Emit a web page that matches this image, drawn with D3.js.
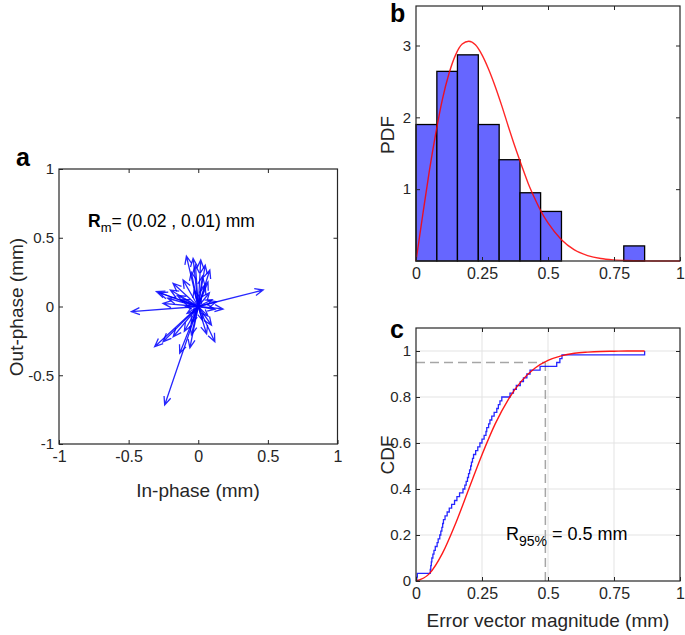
<!DOCTYPE html>
<html>
<head>
<meta charset="utf-8">
<script src="https://cdn.jsdelivr.net/npm/d3@7"></script>
<style>
  html, body { margin: 0; padding: 0; background: #fff; }
  svg text { font-family: "Liberation Sans", Arial, Helvetica, sans-serif; }
</style>
</head>
<body>
<svg id="chart" width="685" height="635"></svg>
<script>
// ---------------- DATA ----------------
// Panel a: error vectors (in-phase, out-phase) in mm, drawn from the origin
const arrowX = [-0.085, -0.037, 0.018, 0.083, 0.070, -0.109, -0.181, -0.300, -0.253, -0.480,
                 0.466, 0.178, 0.131, -0.313, -0.253, -0.133, -0.241, 0.119, 0.095, -0.049,
                -0.200, -0.150, -0.120, -0.220, -0.050, 0.030, 0.050, -0.030, 0.080, -0.080,
                -0.050, 0.030, 0.060, -0.100, 0.120, 0.100, -0.020, 0.050, -0.060, -0.180,
                -0.280, 0.020, -0.040, 0.070, -0.090];
const arrowY = [ 0.367, 0.350, 0.338, 0.265, 0.180, 0.193, 0.169, 0.108, 0.023, -0.038,
                 0.120, -0.018, 0.035, -0.292, -0.256, -0.340, -0.716, -0.256, -0.135, -0.207,
                 0.120, 0.080, 0.050, 0.060, 0.250, 0.220, 0.150, 0.120, 0.100, -0.050,
                -0.120, -0.100, -0.200, -0.180, -0.020, 0.050, 0.300, 0.300, -0.300, -0.220,
                 0.100, 0.060, -0.050, -0.070, 0.000];
const meanLabel = "= (0.02 , 0.01) mm";

// Panel b: histogram (PDF normalised) and fitted curve
const binEdges = [0, 0.079, 0.157, 0.236, 0.315, 0.394, 0.472, 0.551, 0.630, 0.709, 0.787, 0.866];
const pdfValues = [1.90, 2.64, 2.87, 1.90, 1.41, 0.95, 0.69, 0, 0, 0, 0.21];
const fitPdfX = [0, 0.025, 0.05, 0.075, 0.1, 0.125, 0.15, 0.175, 0.2, 0.225, 0.25, 0.275, 0.3,
                 0.325, 0.35, 0.375, 0.4, 0.425, 0.45, 0.475, 0.5, 0.55, 0.6, 0.65, 0.7, 0.75,
                 0.8, 0.85, 0.9, 1.0];
const fitPdfY = [0, 0.63, 1.24, 1.78, 2.25, 2.61, 2.87, 3.02, 3.06, 3.01, 2.87, 2.67, 2.43,
                 2.16, 1.87, 1.59, 1.33, 1.08, 0.87, 0.68, 0.53, 0.30, 0.155, 0.076, 0.034, 0.015,
                 0.006, 0.002, 0.001, 0];

// Panel c: measured error magnitudes (mm, sorted) -> empirical CDF, and fitted CDF
const errorMagnitudes = [0.003, 0.005, 0.054, 0.056, 0.058, 0.060, 0.064, 0.068, 0.073, 0.080,
                         0.084, 0.090, 0.094, 0.098, 0.101, 0.104, 0.110, 0.118, 0.126, 0.135,
                         0.146, 0.155, 0.165, 0.178, 0.185, 0.190, 0.195, 0.199, 0.203, 0.207,
                         0.210, 0.214, 0.218, 0.226, 0.234, 0.242, 0.250, 0.258, 0.265, 0.268,
                         0.275, 0.280, 0.287, 0.296, 0.306, 0.312, 0.318, 0.325, 0.356, 0.369,
                         0.380, 0.395, 0.407, 0.420, 0.432, 0.470, 0.533, 0.545, 0.553, 0.866];
const fitCdfX = [0, 0.05, 0.1, 0.15, 0.2, 0.25, 0.3, 0.35, 0.4, 0.45, 0.5, 0.55, 0.6, 0.65,
                 0.7, 0.75, 0.8, 0.866];
const fitCdfY = [0, 0.031, 0.120, 0.250, 0.400, 0.549, 0.683, 0.790, 0.870, 0.925, 0.959,
                 0.979, 0.990, 0.995, 0.998, 0.999, 1.0, 1.0];
const r95Value = 0.49;
const r95Level = 0.95;

// Ticks
const ticksA = [-1, -0.5, 0, 0.5, 1];
const ticksALabels = ["-1", "-0.5", "0", "0.5", "1"];
const ticksX01 = [0, 0.25, 0.5, 0.75, 1];
const ticksX01Labels = ["0", "0.25", "0.5", "0.75", "1"];
const ticksPdf = [1, 2, 3];
const ticksPdfLabels = ["1", "2", "3"];
const ticksCdf = [0, 0.2, 0.4, 0.6, 0.8, 1];
const ticksCdfLabels = ["0", "0.2", "0.4", "0.6", "0.8", "1"];

// ---------------- DRAWING ----------------
const svg = d3.select("#chart");
const axisColor = "#262626";
const tickFont = 16;
const yTickFont = 15;
const labelFont = 19;

function lab(ticks, labels) {
  return v => labels[ticks.indexOf(v)];
}

function frame(g, sx, sy, xt, xl, yt, yl, xTopTicks, yRightTicks) {
  const [x0, x1] = sx.range();
  const [y0, y1] = sy.range(); // y0 bottom, y1 top
  g.append("g").attr("transform", `translate(0,${y0})`)
    .call(d3.axisBottom(sx).tickValues(xt).tickFormat(lab(xt, xl)).tickSizeInner(-4).tickSizeOuter(0).tickPadding(7))
    .call(a => a.select(".domain").remove())
    .call(a => a.selectAll("line").attr("stroke", axisColor))
    .call(a => a.selectAll("text").attr("fill", axisColor).style("font-size", tickFont + "px"));
  g.append("g").attr("transform", `translate(${x0},0)`)
    .call(d3.axisLeft(sy).tickValues(yt).tickFormat(lab(yt, yl)).tickSizeInner(-4).tickSizeOuter(0).tickPadding(5))
    .call(a => a.select(".domain").remove())
    .call(a => a.selectAll("line").attr("stroke", axisColor))
    .call(a => a.selectAll("text").attr("fill", axisColor).style("font-size", yTickFont + "px"));
  g.append("g").attr("transform", `translate(0,${y1})`)
    .call(d3.axisTop(sx).tickValues(xTopTicks).tickFormat("").tickSizeInner(-4).tickSizeOuter(0))
    .call(a => a.select(".domain").remove())
    .call(a => a.selectAll("line").attr("stroke", axisColor));
  g.append("g").attr("transform", `translate(${x1},0)`)
    .call(d3.axisRight(sy).tickValues(yRightTicks).tickFormat("").tickSizeInner(-4).tickSizeOuter(0))
    .call(a => a.select(".domain").remove())
    .call(a => a.selectAll("line").attr("stroke", axisColor));
  g.append("rect").attr("x", x0).attr("y", y1).attr("width", x1 - x0).attr("height", y0 - y1)
    .attr("fill", "none").attr("stroke", axisColor).attr("stroke-width", 1.2);
}

// ---------- Panel a ----------
const gA = svg.append("g");
const sxA = d3.scaleLinear().domain([-1, 1]).range([59, 337.5]);
const syA = d3.scaleLinear().domain([-1, 1]).range([444, 169]);

const arrows = gA.append("g").attr("stroke", "#0000ff").attr("stroke-width", 1.3).attr("fill", "none")
  .attr("stroke-opacity", 0.85);
arrowX.forEach((ax, i) => {
  const ay = arrowY[i];
  const x1 = sxA(0), y1 = syA(0), x2 = sxA(ax), y2 = syA(ay);
  const len = Math.hypot(x2 - x1, y2 - y1);
  const th = Math.atan2(y2 - y1, x2 - x1);
  const L = Math.min(9, 0.3 * len + 3);
  const p = d3.path();
  p.moveTo(x1, y1); p.lineTo(x2, y2);
  p.moveTo(x2 - L * Math.cos(th - 0.4), y2 - L * Math.sin(th - 0.4));
  p.lineTo(x2, y2);
  p.lineTo(x2 - L * Math.cos(th + 0.4), y2 - L * Math.sin(th + 0.4));
  arrows.append("path").attr("d", p.toString());
});

frame(gA, sxA, syA, ticksA, ticksALabels, ticksA, ticksALabels, ticksA.slice(1, -1), ticksA.slice(1, -1));

const rm = gA.append("text").attr("x", 88).attr("y", 227).attr("fill", "#000").style("font-size", "17.5px");
rm.append("tspan").attr("font-weight", "bold").text("R");
rm.append("tspan").attr("dy", 5).style("font-size", "13px").text("m");
rm.append("tspan").attr("dy", -5).text(meanLabel);

gA.append("text").attr("x", 198).attr("y", 497).attr("text-anchor", "middle")
  .attr("fill", axisColor).style("font-size", labelFont + "px").text("In-phase (mm)");
gA.append("text").attr("transform", "translate(23,307) rotate(-90)").attr("text-anchor", "middle")
  .attr("fill", axisColor).style("font-size", labelFont + "px").text("Out-phase (mm)");
gA.append("text").attr("x", 16).attr("y", 166).attr("font-weight", "bold").attr("fill", "#000")
  .style("font-size", "25px").text("a");

// ---------- Panel b ----------
const gB = svg.append("g");
const sxB = d3.scaleLinear().domain([0, 1]).range([416, 680]);
const syB = d3.scaleLinear().domain([0, 3.55]).range([261, 6]);

gB.append("g").selectAll("rect").data(pdfValues).join("rect")
  .attr("x", (d, i) => sxB(binEdges[i]))
  .attr("width", (d, i) => sxB(binEdges[i + 1]) - sxB(binEdges[i]))
  .attr("y", d => syB(d))
  .attr("height", d => syB(0) - syB(d))
  .attr("fill", "#6666ff")
  .attr("stroke", d => d > 0 ? "#000" : "none")
  .attr("stroke-width", 1.3);

gB.append("path")
  .datum(fitPdfX.map((x, i) => [x, fitPdfY[i]]))
  .attr("d", d3.line().x(d => sxB(d[0])).y(d => syB(d[1])).curve(d3.curveMonotoneX))
  .attr("fill", "none").attr("stroke", "#ff0000").attr("stroke-width", 1.4).attr("stroke-opacity", 0.85);

frame(gB, sxB, syB, ticksX01, ticksX01Labels, ticksPdf, ticksPdfLabels, ticksX01.slice(1, -1), ticksPdf);

gB.append("text").attr("transform", "translate(394,135) rotate(-90)").attr("text-anchor", "middle")
  .attr("fill", axisColor).style("font-size", labelFont + "px").text("PDF");
gB.append("text").attr("x", 390).attr("y", 22).attr("font-weight", "bold").attr("fill", "#000")
  .style("font-size", "25px").text("b");

// ---------- Panel c ----------
const gC = svg.append("g");
const sxC = d3.scaleLinear().domain([0, 1]).range([416, 680]);
const syC = d3.scaleLinear().domain([0, 1.1]).range([581, 328]);

gC.append("g").selectAll("line").data(ticksX01.slice(1, -1)).join("line")
  .attr("x1", d => sxC(d)).attr("x2", d => sxC(d)).attr("y1", syC(0)).attr("y2", syC(1.1))
  .attr("stroke", "#e3e3e3").attr("stroke-width", 1);
gC.append("g").selectAll("line").data(ticksCdf.slice(1)).join("line")
  .attr("y1", d => syC(d)).attr("y2", d => syC(d)).attr("x1", sxC(0)).attr("x2", sxC(1))
  .attr("stroke", "#e3e3e3").attr("stroke-width", 1);

gC.append("line").attr("x1", sxC(0)).attr("x2", sxC(r95Value)).attr("y1", syC(r95Level)).attr("y2", syC(r95Level))
  .attr("stroke", "#a6a6a6").attr("stroke-width", 1.5).attr("stroke-dasharray", "9,5");
gC.append("line").attr("x1", sxC(r95Value)).attr("x2", sxC(r95Value)).attr("y1", syC(0)).attr("y2", syC(r95Level))
  .attr("stroke", "#a6a6a6").attr("stroke-width", 1.5).attr("stroke-dasharray", "9,5");

const n = errorMagnitudes.length;
const ecdf = [[0, 0]].concat(errorMagnitudes.map((v, i) => [v, (i + 1) / n]));
gC.append("path")
  .datum(ecdf)
  .attr("d", d3.line().x(d => sxC(d[0])).y(d => syC(d[1])).curve(d3.curveStepAfter))
  .attr("fill", "none").attr("stroke", "#0000ff").attr("stroke-width", 1.3).attr("stroke-opacity", 0.85);

gC.append("path")
  .datum(fitCdfX.map((x, i) => [x, fitCdfY[i]]))
  .attr("d", d3.line().x(d => sxC(d[0])).y(d => syC(d[1])).curve(d3.curveMonotoneX))
  .attr("fill", "none").attr("stroke", "#ff0000").attr("stroke-width", 1.4).attr("stroke-opacity", 0.9);

frame(gC, sxC, syC, ticksX01, ticksX01Labels, ticksCdf, ticksCdfLabels, ticksX01.slice(1, -1), ticksCdf.slice(1));

const r95 = gC.append("text").attr("x", 506).attr("y", 540).attr("fill", "#000").style("font-size", "18px");
r95.append("tspan").text("R");
r95.append("tspan").attr("dy", 6).style("font-size", "14px").text("95%");
r95.append("tspan").attr("dy", -6).text(" = 0.5 mm");

gC.append("text").attr("x", 548).attr("y", 627).attr("text-anchor", "middle")
  .attr("fill", axisColor).style("font-size", labelFont + "px").text("Error vector magnitude (mm)");
gC.append("text").attr("transform", "translate(394,455) rotate(-90)").attr("text-anchor", "middle")
  .attr("fill", axisColor).style("font-size", labelFont + "px").text("CDF");
gC.append("text").attr("x", 390).attr("y", 338).attr("font-weight", "bold").attr("fill", "#000")
  .style("font-size", "25px").text("c");
</script>
</body>
</html>
